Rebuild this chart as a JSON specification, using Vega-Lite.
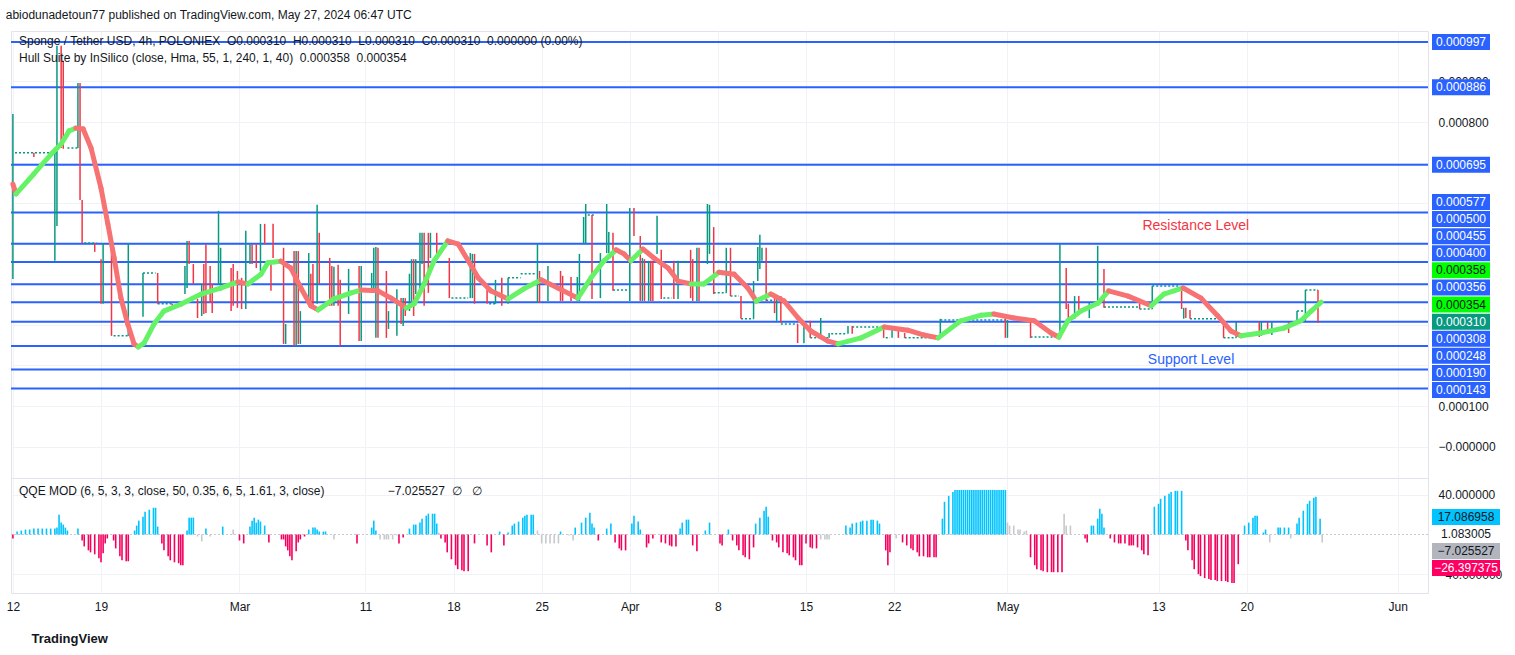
{
  "$schema": "https://vega.github.io/schema/vega-lite/v6.json",
  "background": "#ffffff",
  "padding": {"left": 5, "top": 8, "right": 0, "bottom": 0},
  "title": {"text": "abiodunadetoun77 published on TradingView.com, May 27, 2024 06:47 UTC", "anchor": "start", "fontSize": 12, "fontWeight": "normal", "color": "#131722", "offset": 9},
  "config": {
    "font": "Liberation Sans",
    "view": {"stroke": "#e0e3eb"},
    "axis": {"labelFont": "Liberation Sans", "labelFontSize": 12, "labelColor": "#131722", "gridColor": "#f0f2f6", "domain": false, "ticks": false},
    "title": {"font": "Liberation Sans"}
  },
  "datasets": {
    "levels": [
      {"v": 0.000997, "kind": "line"}, {"v": 0.000886, "kind": "line"}, {"v": 0.000695, "kind": "line"},
      {"v": 0.000577, "kind": "line"}, {"v": 0.0005, "kind": "line"}, {"v": 0.000455, "kind": "line"},
      {"v": 0.0004, "kind": "line"}, {"v": 0.000356, "kind": "line"}, {"v": 0.000308, "kind": "line"},
      {"v": 0.000248, "kind": "line"}, {"v": 0.00019, "kind": "line"}, {"v": 0.000143, "kind": "line"},
      {"v": 0.000358, "kind": "hull"}, {"v": 0.000354, "kind": "hull"}, {"v": 0.00031, "kind": "price"}
    ],
    "notes": [
      {"t": "2024-05-15T23:00Z", "v": 0.000543, "label": "Resistance Level", "kind": "res"},
      {"t": "2024-05-15T14:00Z", "v": 0.000213, "label": "Support Level", "kind": "sup"}
    ],
    "candles": [
      {"t": "2024-02-12T00:00Z", "v": 0.000413, "hi": 0.00082, "d": "u"},
      {"t": "2024-02-13T16:00Z", "v": 0.000714, "hi": 0.000724, "d": "d"},
      {"t": "2024-02-15T08:00Z", "v": 0.000458, "hi": 0.000736, "d": "u"},
      {"t": "2024-02-15T12:00Z", "v": 0.000544, "hi": 0.000988, "d": "u"},
      {"t": "2024-02-15T20:00Z", "v": 0.000736, "hi": 0.000988, "d": "d"},
      {"t": "2024-02-16T00:00Z", "v": 0.000734, "hi": 0.000951, "d": "d"},
      {"t": "2024-02-17T04:00Z", "v": 0.000736, "hi": 0.000896, "d": "u"},
      {"t": "2024-02-17T08:00Z", "v": 0.000608, "hi": 0.000896, "d": "d"},
      {"t": "2024-02-17T12:00Z", "v": 0.000502, "hi": 0.000608, "d": "d"},
      {"t": "2024-02-18T12:00Z", "v": 0.00048, "hi": 0.000502, "d": "d"},
      {"t": "2024-02-19T00:00Z", "v": 0.000352, "hi": 0.000462, "d": "d"},
      {"t": "2024-02-19T04:00Z", "v": 0.000352, "hi": 0.000502, "d": "u"},
      {"t": "2024-02-19T20:00Z", "v": 0.000273, "hi": 0.000502, "d": "d"},
      {"t": "2024-02-21T04:00Z", "v": 0.000273, "hi": 0.000502, "d": "u"},
      {"t": "2024-02-22T08:00Z", "v": 0.00032, "hi": 0.000428, "d": "u"},
      {"t": "2024-02-23T12:00Z", "v": 0.000352, "hi": 0.000428, "d": "d"},
      {"t": "2024-02-24T16:00Z", "v": 0.000342, "hi": 0.000352, "d": "d"},
      {"t": "2024-02-25T16:00Z", "v": 0.000376, "hi": 0.000445, "d": "u"},
      {"t": "2024-02-25T20:00Z", "v": 0.000391, "hi": 0.000507, "d": "u"},
      {"t": "2024-02-26T00:00Z", "v": 0.00045, "hi": 0.000507, "d": "d"},
      {"t": "2024-02-26T08:00Z", "v": 0.000401, "hi": 0.00045, "d": "d"},
      {"t": "2024-02-26T16:00Z", "v": 0.000317, "hi": 0.000364, "d": "d"},
      {"t": "2024-02-27T00:00Z", "v": 0.000322, "hi": 0.000401, "d": "u"},
      {"t": "2024-02-27T04:00Z", "v": 0.000327, "hi": 0.00045, "d": "d"},
      {"t": "2024-02-27T08:00Z", "v": 0.000329, "hi": 0.000499, "d": "d"},
      {"t": "2024-02-27T16:00Z", "v": 0.000354, "hi": 0.000445, "d": "d"},
      {"t": "2024-02-27T20:00Z", "v": 0.000329, "hi": 0.000401, "d": "d"},
      {"t": "2024-02-28T08:00Z", "v": 0.000401, "hi": 0.000581, "d": "u"},
      {"t": "2024-02-28T12:00Z", "v": 0.000384, "hi": 0.00049, "d": "u"},
      {"t": "2024-02-29T08:00Z", "v": 0.000334, "hi": 0.00044, "d": "d"},
      {"t": "2024-02-29T12:00Z", "v": 0.000347, "hi": 0.00045, "d": "d"},
      {"t": "2024-02-29T20:00Z", "v": 0.000342, "hi": 0.000433, "d": "d"},
      {"t": "2024-03-01T04:00Z", "v": 0.000339, "hi": 0.000416, "d": "d"},
      {"t": "2024-03-01T12:00Z", "v": 0.000339, "hi": 0.000532, "d": "u"},
      {"t": "2024-03-01T20:00Z", "v": 0.00045, "hi": 0.000499, "d": "u"},
      {"t": "2024-03-02T00:00Z", "v": 0.00045, "hi": 0.000499, "d": "d"},
      {"t": "2024-03-02T08:00Z", "v": 0.00044, "hi": 0.000499, "d": "d"},
      {"t": "2024-03-02T16:00Z", "v": 0.000433, "hi": 0.000549, "d": "u"},
      {"t": "2024-03-03T00:00Z", "v": 0.000499, "hi": 0.000549, "d": "d"},
      {"t": "2024-03-03T12:00Z", "v": 0.000384, "hi": 0.000458, "d": "d"},
      {"t": "2024-03-03T16:00Z", "v": 0.000465, "hi": 0.000549, "d": "d"},
      {"t": "2024-03-04T12:00Z", "v": 0.000253, "hi": 0.00049, "d": "d"},
      {"t": "2024-03-04T16:00Z", "v": 0.000253, "hi": 0.000302, "d": "u"},
      {"t": "2024-03-05T08:00Z", "v": 0.000248, "hi": 0.000482, "d": "d"},
      {"t": "2024-03-05T12:00Z", "v": 0.000248, "hi": 0.000482, "d": "u"},
      {"t": "2024-03-05T16:00Z", "v": 0.000253, "hi": 0.000482, "d": "d"},
      {"t": "2024-03-05T20:00Z", "v": 0.000253, "hi": 0.000334, "d": "u"},
      {"t": "2024-03-06T12:00Z", "v": 0.000347, "hi": 0.000477, "d": "u"},
      {"t": "2024-03-06T16:00Z", "v": 0.000347, "hi": 0.000426, "d": "d"},
      {"t": "2024-03-06T20:00Z", "v": 0.000347, "hi": 0.00045, "d": "d"},
      {"t": "2024-03-07T04:00Z", "v": 0.000352, "hi": 0.000596, "d": "u"},
      {"t": "2024-03-07T08:00Z", "v": 0.000401, "hi": 0.000527, "d": "d"},
      {"t": "2024-03-08T04:00Z", "v": 0.000347, "hi": 0.000465, "d": "d"},
      {"t": "2024-03-08T08:00Z", "v": 0.000347, "hi": 0.000445, "d": "d"},
      {"t": "2024-03-08T12:00Z", "v": 0.000347, "hi": 0.000443, "d": "u"},
      {"t": "2024-03-08T20:00Z", "v": 0.000347, "hi": 0.000448, "d": "d"},
      {"t": "2024-03-09T00:00Z", "v": 0.000248, "hi": 0.000411, "d": "d"},
      {"t": "2024-03-09T16:00Z", "v": 0.000327, "hi": 0.000438, "d": "u"},
      {"t": "2024-03-10T12:00Z", "v": 0.00026, "hi": 0.000445, "d": "d"},
      {"t": "2024-03-10T16:00Z", "v": 0.00026, "hi": 0.000445, "d": "u"},
      {"t": "2024-03-11T12:00Z", "v": 0.000379, "hi": 0.000428, "d": "u"},
      {"t": "2024-03-11T16:00Z", "v": 0.000384, "hi": 0.00049, "d": "u"},
      {"t": "2024-03-11T20:00Z", "v": 0.000268, "hi": 0.000492, "d": "u"},
      {"t": "2024-03-12T00:00Z", "v": 0.000268, "hi": 0.00049, "d": "d"},
      {"t": "2024-03-12T16:00Z", "v": 0.000268, "hi": 0.000433, "d": "d"},
      {"t": "2024-03-12T20:00Z", "v": 0.00029, "hi": 0.000334, "d": "u"},
      {"t": "2024-03-13T12:00Z", "v": 0.000273, "hi": 0.000388, "d": "u"},
      {"t": "2024-03-13T20:00Z", "v": 0.000302, "hi": 0.000366, "d": "d"},
      {"t": "2024-03-14T00:00Z", "v": 0.000297, "hi": 0.000366, "d": "u"},
      {"t": "2024-03-14T04:00Z", "v": 0.000322, "hi": 0.000366, "d": "d"},
      {"t": "2024-03-14T12:00Z", "v": 0.000334, "hi": 0.000426, "d": "u"},
      {"t": "2024-03-14T16:00Z", "v": 0.000359, "hi": 0.000462, "d": "u"},
      {"t": "2024-03-14T20:00Z", "v": 0.000322, "hi": 0.000462, "d": "d"},
      {"t": "2024-03-15T00:00Z", "v": 0.000376, "hi": 0.000462, "d": "u"},
      {"t": "2024-03-15T08:00Z", "v": 0.000379, "hi": 0.000527, "d": "u"},
      {"t": "2024-03-15T12:00Z", "v": 0.00045, "hi": 0.000527, "d": "u"},
      {"t": "2024-03-15T16:00Z", "v": 0.000347, "hi": 0.000527, "d": "d"},
      {"t": "2024-03-16T00:00Z", "v": 0.000379, "hi": 0.000527, "d": "d"},
      {"t": "2024-03-16T04:00Z", "v": 0.000465, "hi": 0.000527, "d": "u"},
      {"t": "2024-03-16T16:00Z", "v": 0.000465, "hi": 0.000527, "d": "d"},
      {"t": "2024-03-17T16:00Z", "v": 0.000366, "hi": 0.000465, "d": "d"},
      {"t": "2024-03-19T08:00Z", "v": 0.000366, "hi": 0.000477, "d": "u"},
      {"t": "2024-03-19T12:00Z", "v": 0.000366, "hi": 0.000475, "d": "u"},
      {"t": "2024-03-19T16:00Z", "v": 0.000352, "hi": 0.000475, "d": "d"},
      {"t": "2024-03-20T16:00Z", "v": 0.000352, "hi": 0.000398, "d": "d"},
      {"t": "2024-03-21T08:00Z", "v": 0.000352, "hi": 0.000411, "d": "u"},
      {"t": "2024-03-21T20:00Z", "v": 0.000347, "hi": 0.000416, "d": "d"},
      {"t": "2024-03-22T08:00Z", "v": 0.000352, "hi": 0.000416, "d": "u"},
      {"t": "2024-03-24T16:00Z", "v": 0.000354, "hi": 0.000499, "d": "u"},
      {"t": "2024-03-24T20:00Z", "v": 0.000354, "hi": 0.000433, "d": "d"},
      {"t": "2024-03-25T12:00Z", "v": 0.000359, "hi": 0.000445, "d": "u"},
      {"t": "2024-03-26T12:00Z", "v": 0.000359, "hi": 0.000433, "d": "d"},
      {"t": "2024-03-26T16:00Z", "v": 0.000359, "hi": 0.000421, "d": "d"},
      {"t": "2024-03-27T08:00Z", "v": 0.000359, "hi": 0.000418, "d": "d"},
      {"t": "2024-03-27T20:00Z", "v": 0.000359, "hi": 0.000418, "d": "u"},
      {"t": "2024-03-28T00:00Z", "v": 0.000359, "hi": 0.000475, "d": "u"},
      {"t": "2024-03-28T08:00Z", "v": 0.000499, "hi": 0.000566, "d": "u"},
      {"t": "2024-03-28T12:00Z", "v": 0.000499, "hi": 0.000598, "d": "u"},
      {"t": "2024-03-29T00:00Z", "v": 0.000364, "hi": 0.000571, "d": "d"},
      {"t": "2024-03-29T16:00Z", "v": 0.000366, "hi": 0.000477, "d": "u"},
      {"t": "2024-03-30T04:00Z", "v": 0.000477, "hi": 0.000598, "d": "u"},
      {"t": "2024-03-30T08:00Z", "v": 0.000477, "hi": 0.000529, "d": "u"},
      {"t": "2024-03-30T16:00Z", "v": 0.000384, "hi": 0.000527, "d": "d"},
      {"t": "2024-04-01T00:00Z", "v": 0.000359, "hi": 0.000588, "d": "u"},
      {"t": "2024-04-01T08:00Z", "v": 0.000519, "hi": 0.000588, "d": "d"},
      {"t": "2024-04-01T20:00Z", "v": 0.000359, "hi": 0.000519, "d": "d"},
      {"t": "2024-04-02T00:00Z", "v": 0.000359, "hi": 0.000465, "d": "u"},
      {"t": "2024-04-02T04:00Z", "v": 0.000359, "hi": 0.000462, "d": "d"},
      {"t": "2024-04-02T12:00Z", "v": 0.000359, "hi": 0.000458, "d": "u"},
      {"t": "2024-04-02T16:00Z", "v": 0.000359, "hi": 0.000458, "d": "d"},
      {"t": "2024-04-02T20:00Z", "v": 0.000359, "hi": 0.000458, "d": "d"},
      {"t": "2024-04-03T04:00Z", "v": 0.000475, "hi": 0.000569, "d": "u"},
      {"t": "2024-04-03T12:00Z", "v": 0.000364, "hi": 0.000485, "d": "d"},
      {"t": "2024-04-04T12:00Z", "v": 0.000364, "hi": 0.000458, "d": "d"},
      {"t": "2024-04-04T20:00Z", "v": 0.000364, "hi": 0.000458, "d": "u"},
      {"t": "2024-04-05T20:00Z", "v": 0.000366, "hi": 0.000485, "d": "d"},
      {"t": "2024-04-06T00:00Z", "v": 0.000359, "hi": 0.000462, "d": "d"},
      {"t": "2024-04-06T08:00Z", "v": 0.000359, "hi": 0.00049, "d": "u"},
      {"t": "2024-04-06T12:00Z", "v": 0.000359, "hi": 0.00049, "d": "d"},
      {"t": "2024-04-07T04:00Z", "v": 0.00045, "hi": 0.000598, "d": "u"},
      {"t": "2024-04-07T08:00Z", "v": 0.000475, "hi": 0.000596, "d": "u"},
      {"t": "2024-04-07T16:00Z", "v": 0.000376, "hi": 0.000541, "d": "d"},
      {"t": "2024-04-08T16:00Z", "v": 0.000379, "hi": 0.00049, "d": "u"},
      {"t": "2024-04-09T00:00Z", "v": 0.000371, "hi": 0.00049, "d": "d"},
      {"t": "2024-04-09T20:00Z", "v": 0.000315, "hi": 0.000371, "d": "d"},
      {"t": "2024-04-10T20:00Z", "v": 0.000315, "hi": 0.000408, "d": "u"},
      {"t": "2024-04-11T04:00Z", "v": 0.000408, "hi": 0.000492, "d": "u"},
      {"t": "2024-04-11T08:00Z", "v": 0.000438, "hi": 0.000522, "d": "u"},
      {"t": "2024-04-11T12:00Z", "v": 0.000458, "hi": 0.00049, "d": "u"},
      {"t": "2024-04-11T20:00Z", "v": 0.000359, "hi": 0.00049, "d": "d"},
      {"t": "2024-04-12T12:00Z", "v": 0.000329, "hi": 0.000366, "d": "d"},
      {"t": "2024-04-12T16:00Z", "v": 0.00031, "hi": 0.000371, "d": "u"},
      {"t": "2024-04-13T00:00Z", "v": 0.000305, "hi": 0.000371, "d": "d"},
      {"t": "2024-04-14T08:00Z", "v": 0.000255, "hi": 0.000302, "d": "d"},
      {"t": "2024-04-14T20:00Z", "v": 0.000255, "hi": 0.000305, "d": "u"},
      {"t": "2024-04-15T08:00Z", "v": 0.000268, "hi": 0.00031, "d": "d"},
      {"t": "2024-04-16T04:00Z", "v": 0.000268, "hi": 0.000317, "d": "u"},
      {"t": "2024-04-16T20:00Z", "v": 0.000268, "hi": 0.00028, "d": "u"},
      {"t": "2024-04-18T08:00Z", "v": 0.000278, "hi": 0.000297, "d": "u"},
      {"t": "2024-04-18T16:00Z", "v": 0.000278, "hi": 0.000297, "d": "d"},
      {"t": "2024-04-21T04:00Z", "v": 0.000268, "hi": 0.000297, "d": "d"},
      {"t": "2024-04-21T20:00Z", "v": 0.000268, "hi": 0.000292, "d": "u"},
      {"t": "2024-04-22T08:00Z", "v": 0.000268, "hi": 0.000285, "d": "d"},
      {"t": "2024-04-22T20:00Z", "v": 0.000268, "hi": 0.00028, "d": "d"},
      {"t": "2024-04-25T16:00Z", "v": 0.000268, "hi": 0.000315, "d": "u"},
      {"t": "2024-04-30T20:00Z", "v": 0.000268, "hi": 0.000315, "d": "d"},
      {"t": "2024-05-01T00:00Z", "v": 0.000268, "hi": 0.000312, "d": "u"},
      {"t": "2024-05-02T20:00Z", "v": 0.000268, "hi": 0.000315, "d": "d"},
      {"t": "2024-05-05T04:00Z", "v": 0.00027, "hi": 0.000499, "d": "u"},
      {"t": "2024-05-05T16:00Z", "v": 0.000339, "hi": 0.00044, "d": "d"},
      {"t": "2024-05-05T20:00Z", "v": 0.000315, "hi": 0.000352, "d": "d"},
      {"t": "2024-05-06T08:00Z", "v": 0.000315, "hi": 0.000371, "d": "u"},
      {"t": "2024-05-06T16:00Z", "v": 0.000327, "hi": 0.000371, "d": "d"},
      {"t": "2024-05-07T12:00Z", "v": 0.000317, "hi": 0.000354, "d": "u"},
      {"t": "2024-05-08T04:00Z", "v": 0.000347, "hi": 0.000495, "d": "u"},
      {"t": "2024-05-08T16:00Z", "v": 0.000342, "hi": 0.000438, "d": "d"},
      {"t": "2024-05-11T12:00Z", "v": 0.000339, "hi": 0.000357, "d": "d"},
      {"t": "2024-05-12T12:00Z", "v": 0.000339, "hi": 0.000396, "d": "u"},
      {"t": "2024-05-14T20:00Z", "v": 0.000339, "hi": 0.000396, "d": "d"},
      {"t": "2024-05-15T00:00Z", "v": 0.000315, "hi": 0.000342, "d": "u"},
      {"t": "2024-05-15T04:00Z", "v": 0.000317, "hi": 0.000342, "d": "d"},
      {"t": "2024-05-15T12:00Z", "v": 0.000315, "hi": 0.000337, "d": "d"},
      {"t": "2024-05-18T04:00Z", "v": 0.000268, "hi": 0.000307, "d": "d"},
      {"t": "2024-05-19T04:00Z", "v": 0.000268, "hi": 0.000307, "d": "u"},
      {"t": "2024-05-21T00:00Z", "v": 0.00027, "hi": 0.000307, "d": "d"},
      {"t": "2024-05-21T04:00Z", "v": 0.000273, "hi": 0.000307, "d": "u"},
      {"t": "2024-05-21T16:00Z", "v": 0.000278, "hi": 0.000307, "d": "d"},
      {"t": "2024-05-22T00:00Z", "v": 0.000275, "hi": 0.000307, "d": "u"},
      {"t": "2024-05-23T08:00Z", "v": 0.00028, "hi": 0.000307, "d": "d"},
      {"t": "2024-05-24T00:00Z", "v": 0.000305, "hi": 0.000334, "d": "u"},
      {"t": "2024-05-24T16:00Z", "v": 0.00031, "hi": 0.000386, "d": "u"},
      {"t": "2024-05-25T16:00Z", "v": 0.000305, "hi": 0.000386, "d": "d"}
    ],
    "flats": [
      {"t": "2024-02-12T04:00Z", "t2": "2024-02-15T12:00Z", "v": 0.000724},
      {"t": "2024-02-16T08:00Z", "t2": "2024-02-17T04:00Z", "v": 0.000736},
      {"t": "2024-02-17T16:00Z", "t2": "2024-02-18T16:00Z", "v": 0.000502},
      {"t": "2024-02-20T00:00Z", "t2": "2024-02-21T04:00Z", "v": 0.000273},
      {"t": "2024-02-22T08:00Z", "t2": "2024-02-23T08:00Z", "v": 0.000428},
      {"t": "2024-02-23T12:00Z", "t2": "2024-02-24T16:00Z", "v": 0.000352},
      {"t": "2024-03-17T20:00Z", "t2": "2024-03-19T04:00Z", "v": 0.000366},
      {"t": "2024-03-20T20:00Z", "t2": "2024-03-21T08:00Z", "v": 0.000352},
      {"t": "2024-03-22T08:00Z", "t2": "2024-03-23T08:00Z", "v": 0.000416},
      {"t": "2024-03-23T08:00Z", "t2": "2024-03-24T12:00Z", "v": 0.000426},
      {"t": "2024-03-28T16:00Z", "t2": "2024-03-29T04:00Z", "v": 0.000571},
      {"t": "2024-03-30T16:00Z", "t2": "2024-03-31T20:00Z", "v": 0.000386},
      {"t": "2024-04-03T16:00Z", "t2": "2024-04-04T08:00Z", "v": 0.000366},
      {"t": "2024-04-04T20:00Z", "t2": "2024-04-05T16:00Z", "v": 0.000455},
      {"t": "2024-04-07T16:00Z", "t2": "2024-04-08T16:00Z", "v": 0.000379},
      {"t": "2024-04-09T00:00Z", "t2": "2024-04-09T16:00Z", "v": 0.000371},
      {"t": "2024-04-09T20:00Z", "t2": "2024-04-10T20:00Z", "v": 0.000315},
      {"t": "2024-04-11T20:00Z", "t2": "2024-04-12T12:00Z", "v": 0.000361},
      {"t": "2024-04-13T00:00Z", "t2": "2024-04-14T08:00Z", "v": 0.000302},
      {"t": "2024-04-15T08:00Z", "t2": "2024-04-16T20:00Z", "v": 0.000268},
      {"t": "2024-04-17T00:00Z", "t2": "2024-04-18T04:00Z", "v": 0.000278},
      {"t": "2024-04-18T16:00Z", "t2": "2024-04-21T04:00Z", "v": 0.000295},
      {"t": "2024-04-21T08:00Z", "t2": "2024-04-21T16:00Z", "v": 0.000268},
      {"t": "2024-04-22T20:00Z", "t2": "2024-04-25T12:00Z", "v": 0.000268},
      {"t": "2024-04-25T16:00Z", "t2": "2024-04-30T20:00Z", "v": 0.000312},
      {"t": "2024-05-02T20:00Z", "t2": "2024-05-05T04:00Z", "v": 0.00027},
      {"t": "2024-05-08T16:00Z", "t2": "2024-05-11T12:00Z", "v": 0.000344},
      {"t": "2024-05-11T12:00Z", "t2": "2024-05-12T12:00Z", "v": 0.000339},
      {"t": "2024-05-12T12:00Z", "t2": "2024-05-14T16:00Z", "v": 0.000396},
      {"t": "2024-05-15T12:00Z", "t2": "2024-05-18T00:00Z", "v": 0.000315},
      {"t": "2024-05-18T04:00Z", "t2": "2024-05-19T04:00Z", "v": 0.000268},
      {"t": "2024-05-24T00:00Z", "t2": "2024-05-24T12:00Z", "v": 0.000334},
      {"t": "2024-05-24T16:00Z", "t2": "2024-05-25T16:00Z", "v": 0.000386}
    ],
    "hull": [
      {"t": "2024-02-12T00:00Z", "v": 0.000647}, {"t": "2024-02-12T06:00Z", "v": 0.000623},
      {"t": "2024-02-13T16:00Z", "v": 0.000672}, {"t": "2024-02-15T01:00Z", "v": 0.000721},
      {"t": "2024-02-15T20:00Z", "v": 0.000746}, {"t": "2024-02-16T11:00Z", "v": 0.000778},
      {"t": "2024-02-17T00:00Z", "v": 0.000785}, {"t": "2024-02-17T14:00Z", "v": 0.000783},
      {"t": "2024-02-18T05:00Z", "v": 0.000736}, {"t": "2024-02-19T00:00Z", "v": 0.000637},
      {"t": "2024-02-19T13:00Z", "v": 0.000549}, {"t": "2024-02-20T01:00Z", "v": 0.000465},
      {"t": "2024-02-20T14:00Z", "v": 0.000366}, {"t": "2024-02-21T03:00Z", "v": 0.000302},
      {"t": "2024-02-21T15:00Z", "v": 0.000253}, {"t": "2024-02-21T23:00Z", "v": 0.000246},
      {"t": "2024-02-22T10:00Z", "v": 0.000255}, {"t": "2024-02-23T05:00Z", "v": 0.000302},
      {"t": "2024-02-24T00:00Z", "v": 0.000334}, {"t": "2024-02-25T08:00Z", "v": 0.000351},
      {"t": "2024-02-26T23:00Z", "v": 0.000376}, {"t": "2024-02-28T13:00Z", "v": 0.000391},
      {"t": "2024-02-29T21:00Z", "v": 0.000406}, {"t": "2024-03-01T16:00Z", "v": 0.000401},
      {"t": "2024-03-02T17:00Z", "v": 0.000425}, {"t": "2024-03-03T06:00Z", "v": 0.000453},
      {"t": "2024-03-04T07:00Z", "v": 0.000457}, {"t": "2024-03-05T02:00Z", "v": 0.00044},
      {"t": "2024-03-05T21:00Z", "v": 0.000391}, {"t": "2024-03-06T16:00Z", "v": 0.000347},
      {"t": "2024-03-07T06:00Z", "v": 0.000337}, {"t": "2024-03-08T12:00Z", "v": 0.000364},
      {"t": "2024-03-09T21:00Z", "v": 0.000379}, {"t": "2024-03-10T16:00Z", "v": 0.000386},
      {"t": "2024-03-12T00:00Z", "v": 0.000384}, {"t": "2024-03-13T01:00Z", "v": 0.000366},
      {"t": "2024-03-14T06:00Z", "v": 0.000342}, {"t": "2024-03-14T21:00Z", "v": 0.000352},
      {"t": "2024-03-15T16:00Z", "v": 0.000401}, {"t": "2024-03-16T11:00Z", "v": 0.000458},
      {"t": "2024-03-17T13:00Z", "v": 0.000507}, {"t": "2024-03-18T09:00Z", "v": 0.000499},
      {"t": "2024-03-19T04:00Z", "v": 0.000458}, {"t": "2024-03-19T23:00Z", "v": 0.000416},
      {"t": "2024-03-20T23:00Z", "v": 0.000384}, {"t": "2024-03-22T08:00Z", "v": 0.000364},
      {"t": "2024-03-23T14:00Z", "v": 0.000389}, {"t": "2024-03-24T23:00Z", "v": 0.000411},
      {"t": "2024-03-26T07:00Z", "v": 0.000391}, {"t": "2024-03-27T21:00Z", "v": 0.000366},
      {"t": "2024-03-28T22:00Z", "v": 0.000416}, {"t": "2024-03-29T23:00Z", "v": 0.000458},
      {"t": "2024-03-30T22:00Z", "v": 0.000485}, {"t": "2024-03-31T13:00Z", "v": 0.000475},
      {"t": "2024-04-01T02:00Z", "v": 0.000458}, {"t": "2024-04-02T01:00Z", "v": 0.000487},
      {"t": "2024-04-02T22:00Z", "v": 0.000465}, {"t": "2024-04-04T01:00Z", "v": 0.00044},
      {"t": "2024-04-04T20:00Z", "v": 0.000408}, {"t": "2024-04-05T21:00Z", "v": 0.000401},
      {"t": "2024-04-06T21:00Z", "v": 0.000401}, {"t": "2024-04-08T02:00Z", "v": 0.00043},
      {"t": "2024-04-09T07:00Z", "v": 0.000425}, {"t": "2024-04-10T09:00Z", "v": 0.000391},
      {"t": "2024-04-11T01:00Z", "v": 0.000359}, {"t": "2024-04-12T05:00Z", "v": 0.000376},
      {"t": "2024-04-13T06:00Z", "v": 0.000359}, {"t": "2024-04-14T09:00Z", "v": 0.000317},
      {"t": "2024-04-15T09:00Z", "v": 0.000285}, {"t": "2024-04-16T18:00Z", "v": 0.00026},
      {"t": "2024-04-17T13:00Z", "v": 0.000253}, {"t": "2024-04-19T09:00Z", "v": 0.000268},
      {"t": "2024-04-21T05:00Z", "v": 0.000295}, {"t": "2024-04-23T02:00Z", "v": 0.000287},
      {"t": "2024-04-24T09:00Z", "v": 0.000275}, {"t": "2024-04-25T12:00Z", "v": 0.000268},
      {"t": "2024-04-27T07:00Z", "v": 0.00031}, {"t": "2024-04-28T22:00Z", "v": 0.000324},
      {"t": "2024-04-29T22:00Z", "v": 0.000327}, {"t": "2024-05-01T12:00Z", "v": 0.000317},
      {"t": "2024-05-03T03:00Z", "v": 0.00031}, {"t": "2024-05-04T11:00Z", "v": 0.00028},
      {"t": "2024-05-05T02:00Z", "v": 0.00027}, {"t": "2024-05-05T19:00Z", "v": 0.00031},
      {"t": "2024-05-06T20:00Z", "v": 0.000334}, {"t": "2024-05-08T05:00Z", "v": 0.000354},
      {"t": "2024-05-09T01:00Z", "v": 0.000384}, {"t": "2024-05-10T14:00Z", "v": 0.000371},
      {"t": "2024-05-12T10:00Z", "v": 0.000347}, {"t": "2024-05-13T10:00Z", "v": 0.000376},
      {"t": "2024-05-14T23:00Z", "v": 0.000391}, {"t": "2024-05-16T09:00Z", "v": 0.000366},
      {"t": "2024-05-17T17:00Z", "v": 0.000322}, {"t": "2024-05-18T18:00Z", "v": 0.000285},
      {"t": "2024-05-19T13:00Z", "v": 0.000273}, {"t": "2024-05-21T03:00Z", "v": 0.00028},
      {"t": "2024-05-22T23:00Z", "v": 0.000292}, {"t": "2024-05-24T07:00Z", "v": 0.00031},
      {"t": "2024-05-25T03:00Z", "v": 0.000334}, {"t": "2024-05-25T22:00Z", "v": 0.000356}
    ],
    "qtags": [
      {"q": 17.086958, "kind": "up"}, {"q": 1.083005, "kind": "plain"},
      {"q": -7.025527, "kind": "flat"}, {"q": -26.397375, "kind": "down"}
    ],
    "qqe": [
      {"t": "2024-02-12T00:00Z", "q": -4, "c": "p"}, {"t": "2024-02-12T08:00Z", "q": 3, "c": "b"},
      {"t": "2024-02-12T16:00Z", "q": 4, "c": "b"}, {"t": "2024-02-13T00:00Z", "q": 5, "c": "b"},
      {"t": "2024-02-13T08:00Z", "q": 5, "c": "b"}, {"t": "2024-02-13T16:00Z", "q": 6, "c": "b"},
      {"t": "2024-02-14T00:00Z", "q": 6, "c": "b"}, {"t": "2024-02-14T08:00Z", "q": 6, "c": "b"},
      {"t": "2024-02-14T16:00Z", "q": 6, "c": "b"}, {"t": "2024-02-15T00:00Z", "q": 6, "c": "b"},
      {"t": "2024-02-15T08:00Z", "q": 6, "c": "b"}, {"t": "2024-02-15T12:00Z", "q": 7, "c": "b"},
      {"t": "2024-02-15T16:00Z", "q": 20, "c": "b"}, {"t": "2024-02-15T20:00Z", "q": 12, "c": "b"},
      {"t": "2024-02-16T00:00Z", "q": 10, "c": "b"}, {"t": "2024-02-16T04:00Z", "q": 7, "c": "b"},
      {"t": "2024-02-16T08:00Z", "q": 4, "c": "b"}, {"t": "2024-02-17T04:00Z", "q": 6, "c": "b"},
      {"t": "2024-02-17T12:00Z", "q": -6, "c": "p"}, {"t": "2024-02-17T16:00Z", "q": -12, "c": "p"},
      {"t": "2024-02-18T00:00Z", "q": -16, "c": "p"}, {"t": "2024-02-18T04:00Z", "q": -18, "c": "p"},
      {"t": "2024-02-18T12:00Z", "q": -20, "c": "p"}, {"t": "2024-02-18T20:00Z", "q": -24, "c": "p"},
      {"t": "2024-02-19T00:00Z", "q": -28, "c": "p"}, {"t": "2024-02-19T04:00Z", "q": -19, "c": "p"},
      {"t": "2024-02-19T08:00Z", "q": -9, "c": "p"}, {"t": "2024-02-19T12:00Z", "q": -4, "c": "p"},
      {"t": "2024-02-20T00:00Z", "q": -6, "c": "p"}, {"t": "2024-02-20T04:00Z", "q": -14, "c": "p"},
      {"t": "2024-02-20T12:00Z", "q": -22, "c": "p"}, {"t": "2024-02-20T16:00Z", "q": -26, "c": "p"},
      {"t": "2024-02-21T00:00Z", "q": -27, "c": "p"}, {"t": "2024-02-21T04:00Z", "q": -27, "c": "p"},
      {"t": "2024-02-21T16:00Z", "q": 4, "c": "b"}, {"t": "2024-02-21T20:00Z", "q": 9, "c": "b"},
      {"t": "2024-02-22T00:00Z", "q": 14, "c": "b"}, {"t": "2024-02-22T08:00Z", "q": 18, "c": "b"},
      {"t": "2024-02-22T12:00Z", "q": 23, "c": "b"}, {"t": "2024-02-22T20:00Z", "q": 25, "c": "b"},
      {"t": "2024-02-23T04:00Z", "q": 27, "c": "b"}, {"t": "2024-02-23T08:00Z", "q": 27, "c": "b"},
      {"t": "2024-02-23T12:00Z", "q": 8, "c": "b"}, {"t": "2024-02-23T20:00Z", "q": -9, "c": "p"},
      {"t": "2024-02-24T00:00Z", "q": -16, "c": "p"}, {"t": "2024-02-24T08:00Z", "q": -22, "c": "p"},
      {"t": "2024-02-24T12:00Z", "q": -26, "c": "p"}, {"t": "2024-02-24T20:00Z", "q": -28, "c": "p"},
      {"t": "2024-02-25T04:00Z", "q": -29, "c": "p"}, {"t": "2024-02-25T08:00Z", "q": -31, "c": "p"},
      {"t": "2024-02-25T12:00Z", "q": -31, "c": "p"}, {"t": "2024-02-25T20:00Z", "q": 4, "c": "b"},
      {"t": "2024-02-26T00:00Z", "q": 17, "c": "b"}, {"t": "2024-02-26T04:00Z", "q": 17, "c": "b"},
      {"t": "2024-02-26T08:00Z", "q": 17, "c": "b"}, {"t": "2024-02-26T16:00Z", "q": -2, "c": "g"},
      {"t": "2024-02-27T00:00Z", "q": -7, "c": "g"}, {"t": "2024-02-27T08:00Z", "q": 6, "c": "b"},
      {"t": "2024-02-27T16:00Z", "q": -2, "c": "g"}, {"t": "2024-02-28T16:00Z", "q": 8, "c": "b"},
      {"t": "2024-02-29T12:00Z", "q": 5, "c": "g"}, {"t": "2024-03-01T00:00Z", "q": -6, "c": "p"},
      {"t": "2024-03-01T08:00Z", "q": -9, "c": "p"}, {"t": "2024-03-01T20:00Z", "q": 8, "c": "b"},
      {"t": "2024-03-02T00:00Z", "q": 14, "c": "b"}, {"t": "2024-03-02T04:00Z", "q": 17, "c": "b"},
      {"t": "2024-03-02T08:00Z", "q": 12, "c": "b"}, {"t": "2024-03-02T12:00Z", "q": 15, "c": "b"},
      {"t": "2024-03-02T16:00Z", "q": 13, "c": "b"}, {"t": "2024-03-03T00:00Z", "q": 9, "c": "b"},
      {"t": "2024-03-03T08:00Z", "q": -8, "c": "p"}, {"t": "2024-03-04T08:00Z", "q": -5, "c": "p"},
      {"t": "2024-03-04T12:00Z", "q": -5, "c": "p"}, {"t": "2024-03-04T16:00Z", "q": -12, "c": "p"},
      {"t": "2024-03-04T20:00Z", "q": -16, "c": "p"}, {"t": "2024-03-05T00:00Z", "q": -22, "c": "p"},
      {"t": "2024-03-05T04:00Z", "q": -26, "c": "p"}, {"t": "2024-03-05T12:00Z", "q": -17, "c": "p"},
      {"t": "2024-03-05T16:00Z", "q": -8, "c": "p"}, {"t": "2024-03-05T20:00Z", "q": -5, "c": "p"},
      {"t": "2024-03-06T04:00Z", "q": -2, "c": "p"}, {"t": "2024-03-06T12:00Z", "q": 5, "c": "b"},
      {"t": "2024-03-06T20:00Z", "q": 7, "c": "b"}, {"t": "2024-03-07T00:00Z", "q": 7, "c": "b"},
      {"t": "2024-03-07T04:00Z", "q": 5, "c": "b"}, {"t": "2024-03-07T08:00Z", "q": 3, "c": "b"},
      {"t": "2024-03-07T16:00Z", "q": 3, "c": "b"}, {"t": "2024-03-07T20:00Z", "q": 3, "c": "b"},
      {"t": "2024-03-08T12:00Z", "q": -5, "c": "g"}, {"t": "2024-03-10T08:00Z", "q": -9, "c": "p"},
      {"t": "2024-03-11T12:00Z", "q": 7, "c": "b"}, {"t": "2024-03-11T16:00Z", "q": 14, "c": "b"},
      {"t": "2024-03-11T20:00Z", "q": 4, "c": "b"}, {"t": "2024-03-12T04:00Z", "q": -5, "c": "g"},
      {"t": "2024-03-12T12:00Z", "q": -5, "c": "g"}, {"t": "2024-03-12T16:00Z", "q": -5, "c": "g"},
      {"t": "2024-03-12T20:00Z", "q": -5, "c": "g"}, {"t": "2024-03-13T04:00Z", "q": -5, "c": "g"},
      {"t": "2024-03-13T12:00Z", "q": -1, "c": "g"}, {"t": "2024-03-13T16:00Z", "q": -9, "c": "p"},
      {"t": "2024-03-14T00:00Z", "q": -3, "c": "p"}, {"t": "2024-03-14T12:00Z", "q": 6, "c": "b"},
      {"t": "2024-03-14T20:00Z", "q": 10, "c": "b"}, {"t": "2024-03-15T00:00Z", "q": 10, "c": "b"},
      {"t": "2024-03-15T08:00Z", "q": 12, "c": "b"}, {"t": "2024-03-15T12:00Z", "q": 16, "c": "b"},
      {"t": "2024-03-15T20:00Z", "q": 19, "c": "b"}, {"t": "2024-03-16T00:00Z", "q": 21, "c": "b"},
      {"t": "2024-03-16T08:00Z", "q": 21, "c": "b"}, {"t": "2024-03-16T12:00Z", "q": 21, "c": "b"},
      {"t": "2024-03-16T16:00Z", "q": 11, "c": "b"}, {"t": "2024-03-16T20:00Z", "q": 2, "c": "g"},
      {"t": "2024-03-17T00:00Z", "q": -4, "c": "p"}, {"t": "2024-03-17T08:00Z", "q": -8, "c": "p"},
      {"t": "2024-03-17T12:00Z", "q": -18, "c": "p"}, {"t": "2024-03-17T20:00Z", "q": -25, "c": "p"},
      {"t": "2024-03-18T04:00Z", "q": -31, "c": "p"}, {"t": "2024-03-18T08:00Z", "q": -35, "c": "p"},
      {"t": "2024-03-18T16:00Z", "q": -36, "c": "p"}, {"t": "2024-03-18T20:00Z", "q": -37, "c": "p"},
      {"t": "2024-03-19T04:00Z", "q": -37, "c": "p"}, {"t": "2024-03-19T16:00Z", "q": -9, "c": "p"},
      {"t": "2024-03-20T16:00Z", "q": -11, "c": "p"}, {"t": "2024-03-21T00:00Z", "q": -18, "c": "p"},
      {"t": "2024-03-21T16:00Z", "q": 3, "c": "b"}, {"t": "2024-03-22T00:00Z", "q": -11, "c": "p"},
      {"t": "2024-03-22T08:00Z", "q": 2, "c": "b"}, {"t": "2024-03-22T16:00Z", "q": 9, "c": "b"},
      {"t": "2024-03-22T20:00Z", "q": 11, "c": "b"}, {"t": "2024-03-23T04:00Z", "q": 13, "c": "b"},
      {"t": "2024-03-23T12:00Z", "q": 17, "c": "b"}, {"t": "2024-03-23T16:00Z", "q": 19, "c": "b"},
      {"t": "2024-03-23T20:00Z", "q": 20, "c": "b"}, {"t": "2024-03-24T04:00Z", "q": 20, "c": "b"},
      {"t": "2024-03-24T08:00Z", "q": 20, "c": "b"}, {"t": "2024-03-24T16:00Z", "q": 4, "c": "g"},
      {"t": "2024-03-25T00:00Z", "q": -9, "c": "g"}, {"t": "2024-03-25T08:00Z", "q": -9, "c": "g"},
      {"t": "2024-03-25T16:00Z", "q": -9, "c": "g"}, {"t": "2024-03-26T00:00Z", "q": -9, "c": "g"},
      {"t": "2024-03-26T08:00Z", "q": -9, "c": "g"}, {"t": "2024-03-26T12:00Z", "q": 3, "c": "b"},
      {"t": "2024-03-27T04:00Z", "q": -1, "c": "g"}, {"t": "2024-03-27T12:00Z", "q": -6, "c": "g"},
      {"t": "2024-03-27T16:00Z", "q": 7, "c": "b"}, {"t": "2024-03-28T04:00Z", "q": 12, "c": "b"},
      {"t": "2024-03-28T12:00Z", "q": 17, "c": "b"}, {"t": "2024-03-28T20:00Z", "q": 22, "c": "b"},
      {"t": "2024-03-29T00:00Z", "q": 11, "c": "b"}, {"t": "2024-03-29T04:00Z", "q": 7, "c": "b"},
      {"t": "2024-03-29T12:00Z", "q": -6, "c": "p"}, {"t": "2024-03-30T04:00Z", "q": 6, "c": "b"},
      {"t": "2024-03-30T12:00Z", "q": 11, "c": "b"}, {"t": "2024-03-30T20:00Z", "q": -8, "c": "p"},
      {"t": "2024-03-31T04:00Z", "q": -14, "c": "p"}, {"t": "2024-03-31T08:00Z", "q": -16, "c": "p"},
      {"t": "2024-03-31T16:00Z", "q": -16, "c": "p"}, {"t": "2024-04-01T04:00Z", "q": 11, "c": "b"},
      {"t": "2024-04-01T08:00Z", "q": 19, "c": "b"}, {"t": "2024-04-01T16:00Z", "q": 13, "c": "b"},
      {"t": "2024-04-01T20:00Z", "q": 5, "c": "b"}, {"t": "2024-04-02T08:00Z", "q": -13, "c": "p"},
      {"t": "2024-04-02T12:00Z", "q": -9, "c": "p"}, {"t": "2024-04-02T20:00Z", "q": -4, "c": "p"},
      {"t": "2024-04-03T12:00Z", "q": -8, "c": "p"}, {"t": "2024-04-03T20:00Z", "q": -9, "c": "p"},
      {"t": "2024-04-04T04:00Z", "q": -11, "c": "p"}, {"t": "2024-04-04T08:00Z", "q": -12, "c": "p"},
      {"t": "2024-04-04T16:00Z", "q": -12, "c": "p"}, {"t": "2024-04-05T00:00Z", "q": 6, "c": "b"},
      {"t": "2024-04-05T04:00Z", "q": 12, "c": "b"}, {"t": "2024-04-05T12:00Z", "q": 15, "c": "b"},
      {"t": "2024-04-05T16:00Z", "q": 15, "c": "b"}, {"t": "2024-04-06T00:00Z", "q": -11, "c": "p"},
      {"t": "2024-04-06T08:00Z", "q": -17, "c": "p"}, {"t": "2024-04-07T00:00Z", "q": 4, "c": "b"},
      {"t": "2024-04-07T08:00Z", "q": 12, "c": "b"}, {"t": "2024-04-08T04:00Z", "q": -9, "c": "p"},
      {"t": "2024-04-08T08:00Z", "q": -11, "c": "p"}, {"t": "2024-04-08T20:00Z", "q": 5, "c": "b"},
      {"t": "2024-04-09T04:00Z", "q": -6, "c": "p"}, {"t": "2024-04-09T12:00Z", "q": -11, "c": "p"},
      {"t": "2024-04-09T16:00Z", "q": -16, "c": "p"}, {"t": "2024-04-10T00:00Z", "q": -21, "c": "p"},
      {"t": "2024-04-10T04:00Z", "q": -23, "c": "p"}, {"t": "2024-04-10T12:00Z", "q": -25, "c": "p"},
      {"t": "2024-04-10T20:00Z", "q": -13, "c": "p"}, {"t": "2024-04-11T00:00Z", "q": 11, "c": "b"},
      {"t": "2024-04-11T08:00Z", "q": 17, "c": "b"}, {"t": "2024-04-11T16:00Z", "q": 24, "c": "b"},
      {"t": "2024-04-11T20:00Z", "q": 28, "c": "b"}, {"t": "2024-04-12T00:00Z", "q": 18, "c": "b"},
      {"t": "2024-04-12T08:00Z", "q": -6, "c": "p"}, {"t": "2024-04-12T16:00Z", "q": -8, "c": "p"},
      {"t": "2024-04-12T20:00Z", "q": -13, "c": "p"}, {"t": "2024-04-13T04:00Z", "q": -18, "c": "p"},
      {"t": "2024-04-13T12:00Z", "q": -19, "c": "p"}, {"t": "2024-04-13T16:00Z", "q": -21, "c": "p"},
      {"t": "2024-04-14T00:00Z", "q": -23, "c": "p"}, {"t": "2024-04-14T04:00Z", "q": -26, "c": "p"},
      {"t": "2024-04-14T12:00Z", "q": -31, "c": "p"}, {"t": "2024-04-14T16:00Z", "q": -31, "c": "p"},
      {"t": "2024-04-15T00:00Z", "q": -9, "c": "p"}, {"t": "2024-04-15T08:00Z", "q": -13, "c": "p"},
      {"t": "2024-04-15T12:00Z", "q": -14, "c": "p"}, {"t": "2024-04-15T20:00Z", "q": -14, "c": "p"},
      {"t": "2024-04-16T04:00Z", "q": -5, "c": "g"}, {"t": "2024-04-16T12:00Z", "q": -5, "c": "g"},
      {"t": "2024-04-16T16:00Z", "q": -5, "c": "g"}, {"t": "2024-04-16T20:00Z", "q": -5, "c": "g"},
      {"t": "2024-04-18T04:00Z", "q": 9, "c": "b"}, {"t": "2024-04-18T12:00Z", "q": 7, "c": "b"},
      {"t": "2024-04-18T16:00Z", "q": 11, "c": "b"}, {"t": "2024-04-19T00:00Z", "q": 12, "c": "b"},
      {"t": "2024-04-19T08:00Z", "q": 13, "c": "b"}, {"t": "2024-04-19T12:00Z", "q": 14, "c": "b"},
      {"t": "2024-04-19T20:00Z", "q": 14, "c": "b"}, {"t": "2024-04-20T04:00Z", "q": 15, "c": "b"},
      {"t": "2024-04-20T08:00Z", "q": 15, "c": "b"}, {"t": "2024-04-20T16:00Z", "q": 14, "c": "b"},
      {"t": "2024-04-20T20:00Z", "q": 11, "c": "b"}, {"t": "2024-04-21T08:00Z", "q": -16, "c": "p"},
      {"t": "2024-04-21T12:00Z", "q": -31, "c": "p"}, {"t": "2024-04-21T16:00Z", "q": -18, "c": "p"},
      {"t": "2024-04-22T04:00Z", "q": -4, "c": "g"}, {"t": "2024-04-22T16:00Z", "q": -8, "c": "p"},
      {"t": "2024-04-23T00:00Z", "q": -11, "c": "p"}, {"t": "2024-04-23T08:00Z", "q": -14, "c": "p"},
      {"t": "2024-04-23T12:00Z", "q": -16, "c": "p"}, {"t": "2024-04-23T20:00Z", "q": -18, "c": "p"},
      {"t": "2024-04-24T00:00Z", "q": -22, "c": "p"}, {"t": "2024-04-24T08:00Z", "q": -22, "c": "p"},
      {"t": "2024-04-24T16:00Z", "q": -23, "c": "p"}, {"t": "2024-04-24T20:00Z", "q": -23, "c": "p"},
      {"t": "2024-04-25T04:00Z", "q": -23, "c": "p"}, {"t": "2024-04-25T08:00Z", "q": -23, "c": "p"},
      {"t": "2024-04-25T20:00Z", "q": 16, "c": "b"}, {"t": "2024-04-26T00:00Z", "q": 33, "c": "b"},
      {"t": "2024-04-26T08:00Z", "q": 39, "c": "b"}, {"t": "2024-04-26T16:00Z", "q": 43, "c": "b"},
      {"t": "2024-04-26T20:00Z", "q": 45, "c": "b"}, {"t": "2024-04-27T00:00Z", "q": 45, "c": "b"},
      {"t": "2024-04-27T04:00Z", "q": 45, "c": "b"}, {"t": "2024-04-27T08:00Z", "q": 45, "c": "b"},
      {"t": "2024-04-27T12:00Z", "q": 45, "c": "b"}, {"t": "2024-04-27T16:00Z", "q": 45, "c": "b"},
      {"t": "2024-04-27T20:00Z", "q": 45, "c": "b"}, {"t": "2024-04-28T00:00Z", "q": 45, "c": "b"},
      {"t": "2024-04-28T04:00Z", "q": 45, "c": "b"}, {"t": "2024-04-28T08:00Z", "q": 45, "c": "b"},
      {"t": "2024-04-28T12:00Z", "q": 45, "c": "b"}, {"t": "2024-04-28T16:00Z", "q": 45, "c": "b"},
      {"t": "2024-04-28T20:00Z", "q": 45, "c": "b"}, {"t": "2024-04-29T00:00Z", "q": 45, "c": "b"},
      {"t": "2024-04-29T04:00Z", "q": 45, "c": "b"}, {"t": "2024-04-29T08:00Z", "q": 45, "c": "b"},
      {"t": "2024-04-29T12:00Z", "q": 45, "c": "b"}, {"t": "2024-04-29T16:00Z", "q": 45, "c": "b"},
      {"t": "2024-04-29T20:00Z", "q": 45, "c": "b"}, {"t": "2024-04-30T00:00Z", "q": 45, "c": "b"},
      {"t": "2024-04-30T04:00Z", "q": 45, "c": "b"}, {"t": "2024-04-30T08:00Z", "q": 45, "c": "b"},
      {"t": "2024-04-30T12:00Z", "q": 45, "c": "b"}, {"t": "2024-04-30T16:00Z", "q": 45, "c": "b"},
      {"t": "2024-04-30T20:00Z", "q": 45, "c": "b"}, {"t": "2024-05-01T00:00Z", "q": 12, "c": "g"},
      {"t": "2024-05-01T04:00Z", "q": 9, "c": "g"}, {"t": "2024-05-01T12:00Z", "q": 9, "c": "g"},
      {"t": "2024-05-01T20:00Z", "q": 5, "c": "g"}, {"t": "2024-05-02T00:00Z", "q": 5, "c": "g"},
      {"t": "2024-05-02T08:00Z", "q": 3, "c": "g"}, {"t": "2024-05-02T12:00Z", "q": 4, "c": "g"},
      {"t": "2024-05-02T20:00Z", "q": -23, "c": "p"}, {"t": "2024-05-03T04:00Z", "q": -31, "c": "p"},
      {"t": "2024-05-03T08:00Z", "q": -35, "c": "p"}, {"t": "2024-05-03T16:00Z", "q": -36, "c": "p"},
      {"t": "2024-05-03T20:00Z", "q": -37, "c": "p"}, {"t": "2024-05-04T04:00Z", "q": -38, "c": "p"},
      {"t": "2024-05-04T12:00Z", "q": -38, "c": "p"}, {"t": "2024-05-04T16:00Z", "q": -38, "c": "p"},
      {"t": "2024-05-05T00:00Z", "q": -38, "c": "p"}, {"t": "2024-05-05T08:00Z", "q": -38, "c": "p"},
      {"t": "2024-05-05T12:00Z", "q": 21, "c": "g"}, {"t": "2024-05-05T16:00Z", "q": 9, "c": "g"},
      {"t": "2024-05-06T00:00Z", "q": 9, "c": "g"}, {"t": "2024-05-07T04:00Z", "q": -4, "c": "p"},
      {"t": "2024-05-07T08:00Z", "q": -8, "c": "p"}, {"t": "2024-05-07T16:00Z", "q": 9, "c": "b"},
      {"t": "2024-05-07T20:00Z", "q": 9, "c": "b"}, {"t": "2024-05-08T04:00Z", "q": 16, "c": "b"},
      {"t": "2024-05-08T08:00Z", "q": 26, "c": "b"}, {"t": "2024-05-08T12:00Z", "q": 21, "c": "b"},
      {"t": "2024-05-08T16:00Z", "q": 7, "c": "b"}, {"t": "2024-05-09T04:00Z", "q": -4, "c": "p"},
      {"t": "2024-05-09T12:00Z", "q": -8, "c": "p"}, {"t": "2024-05-09T20:00Z", "q": -9, "c": "p"},
      {"t": "2024-05-10T00:00Z", "q": -9, "c": "p"}, {"t": "2024-05-10T08:00Z", "q": -9, "c": "p"},
      {"t": "2024-05-10T16:00Z", "q": -11, "c": "p"}, {"t": "2024-05-10T20:00Z", "q": -11, "c": "p"},
      {"t": "2024-05-11T00:00Z", "q": -11, "c": "p"}, {"t": "2024-05-11T08:00Z", "q": -13, "c": "p"},
      {"t": "2024-05-11T16:00Z", "q": -16, "c": "p"}, {"t": "2024-05-11T20:00Z", "q": -20, "c": "p"},
      {"t": "2024-05-12T04:00Z", "q": -21, "c": "p"}, {"t": "2024-05-12T16:00Z", "q": 28, "c": "b"},
      {"t": "2024-05-13T00:00Z", "q": 31, "c": "b"}, {"t": "2024-05-13T04:00Z", "q": 36, "c": "b"},
      {"t": "2024-05-13T12:00Z", "q": 39, "c": "b"}, {"t": "2024-05-13T20:00Z", "q": 41, "c": "b"},
      {"t": "2024-05-14T00:00Z", "q": 43, "c": "b"}, {"t": "2024-05-14T08:00Z", "q": 44, "c": "b"},
      {"t": "2024-05-14T12:00Z", "q": 44, "c": "b"}, {"t": "2024-05-14T20:00Z", "q": 44, "c": "b"},
      {"t": "2024-05-15T04:00Z", "q": -6, "c": "p"}, {"t": "2024-05-15T08:00Z", "q": -16, "c": "p"},
      {"t": "2024-05-15T16:00Z", "q": -26, "c": "p"}, {"t": "2024-05-15T20:00Z", "q": -35, "c": "p"},
      {"t": "2024-05-16T04:00Z", "q": -40, "c": "p"}, {"t": "2024-05-16T08:00Z", "q": -42, "c": "p"},
      {"t": "2024-05-16T16:00Z", "q": -44, "c": "p"}, {"t": "2024-05-17T00:00Z", "q": -45, "c": "p"},
      {"t": "2024-05-17T04:00Z", "q": -46, "c": "p"}, {"t": "2024-05-17T12:00Z", "q": -46, "c": "p"},
      {"t": "2024-05-17T16:00Z", "q": -47, "c": "p"}, {"t": "2024-05-18T00:00Z", "q": -47, "c": "p"},
      {"t": "2024-05-18T08:00Z", "q": -47, "c": "p"}, {"t": "2024-05-18T12:00Z", "q": -48, "c": "p"},
      {"t": "2024-05-18T20:00Z", "q": -49, "c": "p"}, {"t": "2024-05-19T00:00Z", "q": -49, "c": "p"},
      {"t": "2024-05-19T08:00Z", "q": -30, "c": "p"}, {"t": "2024-05-19T20:00Z", "q": 9, "c": "b"},
      {"t": "2024-05-20T04:00Z", "q": 12, "c": "b"}, {"t": "2024-05-20T12:00Z", "q": 17, "c": "b"},
      {"t": "2024-05-20T16:00Z", "q": 19, "c": "b"}, {"t": "2024-05-20T20:00Z", "q": 19, "c": "b"},
      {"t": "2024-05-21T08:00Z", "q": 2, "c": "b"}, {"t": "2024-05-21T12:00Z", "q": 5, "c": "b"},
      {"t": "2024-05-21T20:00Z", "q": -8, "c": "g"}, {"t": "2024-05-22T12:00Z", "q": 7, "c": "b"},
      {"t": "2024-05-22T16:00Z", "q": 7, "c": "b"}, {"t": "2024-05-23T00:00Z", "q": 7, "c": "b"},
      {"t": "2024-05-23T08:00Z", "q": 7, "c": "b"}, {"t": "2024-05-23T12:00Z", "q": -4, "c": "g"},
      {"t": "2024-05-24T00:00Z", "q": 11, "c": "b"}, {"t": "2024-05-24T04:00Z", "q": 17, "c": "b"},
      {"t": "2024-05-24T12:00Z", "q": 24, "c": "b"}, {"t": "2024-05-24T20:00Z", "q": 31, "c": "b"},
      {"t": "2024-05-25T00:00Z", "q": 34, "c": "b"}, {"t": "2024-05-25T08:00Z", "q": 37, "c": "b"},
      {"t": "2024-05-25T12:00Z", "q": 38, "c": "b"}, {"t": "2024-05-25T20:00Z", "q": 16, "c": "b"},
      {"t": "2024-05-26T00:00Z", "q": -8, "c": "g"}
    ]
  },
  "spacing": 0,
  "bounds": "flush",
  "vconcat": [
    {
      "width": 1417,
      "height": 447,
      "title": {
        "text": "Sponge / Tether USD, 4h, POLONIEX\u00a0\u00a0O0.000310\u00a0\u00a0H0.000310\u00a0\u00a0L0.000310\u00a0\u00a0C0.000310\u00a0\u00a00.000000 (0.00%)",
        "subtitle": "Hull Suite by InSilico (close, Hma, 55, 1, 240, 1, 40)\u00a0\u00a00.000358\u00a0\u00a00.000354",
        "anchor": "start", "frame": "group", "offset": -34, "dx": 8,
        "fontSize": 12, "fontWeight": "normal", "color": "#131722",
        "subtitleFontSize": 12, "subtitleColor": "#131722", "subtitlePadding": 5
      },
      "layer": [
        {
          "encoding": {
            "y": {
              "field": "v", "type": "quantitative", "title": null,
              "scale": {"domain": [-0.0000774, 0.0010244], "nice": false, "zero": false},
              "axis": {
                "orient": "right", "grid": true, "labelPadding": 10,
                "values": [0, 0.0001, 0.0002, 0.0003, 0.0004, 0.0005, 0.0006, 0.0007, 0.0008, 0.0009],
                "labelExpr": "datum.value > 0.00085 ? '0.000900' : (abs(datum.value - 0.0008) < 1e-9 ? '0.000800' : (abs(datum.value - 0.0001) < 1e-9 ? '0.000100' : (datum.value == 0 ? '\u22120.000000' : '')))"
              }
            }
          },
          "layer": [
            {
              "data": {"name": "levels"},
              "transform": [{"filter": "datum.kind == 'line'"}],
              "mark": {"type": "rule", "color": "#2962ff", "strokeWidth": 2},
              "encoding": {}
            },
            {
              "data": {"name": "flats"},
              "mark": {"type": "rule", "color": "#089981", "strokeWidth": 1.5, "strokeDash": [2, 2]},
              "encoding": {
                "x": {"field": "t", "type": "temporal", "title": null,
                  "scale": {"type": "utc", "domain": [{"year": 2024, "month": 2, "date": 11, "hours": 20, "minutes": 24, "utc": true}, {"year": 2024, "month": 6, "date": 3, "hours": 9, "minutes": 42, "utc": true}]}},
                "x2": {"field": "t2"}
              }
            },
            {
              "data": {"name": "candles"},
              "mark": {"type": "rule", "strokeWidth": 1.5},
              "encoding": {
                "x": {"field": "t", "type": "temporal", "title": null,
                  "scale": {"type": "utc", "domain": [{"year": 2024, "month": 2, "date": 11, "hours": 20, "minutes": 24, "utc": true}, {"year": 2024, "month": 6, "date": 3, "hours": 9, "minutes": 42, "utc": true}]},
                  "axis": {"labels": false, "grid": true, "title": null,
                    "values": [
                      {"year": 2024, "month": 2, "date": 12, "utc": true}, {"year": 2024, "month": 2, "date": 19, "utc": true},
                      {"year": 2024, "month": 3, "date": 1, "utc": true}, {"year": 2024, "month": 3, "date": 11, "utc": true},
                      {"year": 2024, "month": 3, "date": 18, "utc": true}, {"year": 2024, "month": 3, "date": 25, "utc": true},
                      {"year": 2024, "month": 4, "date": 1, "utc": true}, {"year": 2024, "month": 4, "date": 8, "utc": true},
                      {"year": 2024, "month": 4, "date": 15, "utc": true}, {"year": 2024, "month": 4, "date": 22, "utc": true},
                      {"year": 2024, "month": 5, "date": 1, "utc": true}, {"year": 2024, "month": 5, "date": 13, "utc": true},
                      {"year": 2024, "month": 5, "date": 20, "utc": true}, {"year": 2024, "month": 6, "date": 1, "utc": true}
                    ]}},
                "y2": {"field": "hi"},
                "color": {"condition": {"test": "datum.d == 'u'", "value": "#089981"}, "value": "#f23645"}
              }
            },
            {
              "data": {"name": "hull"},
              "transform": [
                {"window": [{"op": "lead", "field": "t", "as": "t2"}, {"op": "lead", "field": "v", "as": "v2"}], "sort": [{"field": "t"}]},
                {"filter": "datum.t2 != null"}
              ],
              "mark": {"type": "rule", "strokeWidth": 5, "strokeCap": "round"},
              "encoding": {
                "x": {"field": "t", "type": "temporal", "title": null,
                  "scale": {"type": "utc", "domain": [{"year": 2024, "month": 2, "date": 11, "hours": 20, "minutes": 24, "utc": true}, {"year": 2024, "month": 6, "date": 3, "hours": 9, "minutes": 42, "utc": true}]}},
                "x2": {"field": "t2"},
                "y2": {"field": "v2"},
                "color": {"condition": {"test": "datum.v2 >= datum.v", "value": "#66f266"}, "value": "#f77272"}
              }
            },
            {
              "data": {"name": "notes"},
              "mark": {"type": "text", "fontSize": 14},
              "encoding": {
                "x": {"field": "t", "type": "temporal", "title": null,
                  "scale": {"type": "utc", "domain": [{"year": 2024, "month": 2, "date": 11, "hours": 20, "minutes": 24, "utc": true}, {"year": 2024, "month": 6, "date": 3, "hours": 9, "minutes": 42, "utc": true}]}},
                "text": {"field": "label"},
                "color": {"condition": {"test": "datum.kind == 'res'", "value": "#f23645"}, "value": "#2962ff"}
              }
            },
            {
              "data": {"name": "levels"},
              "transform": [{"filter": "datum.v > 0.0006"}],
              "mark": {"type": "rule", "strokeWidth": 16, "xOffset": 4, "x2Offset": 62, "color": "#2962ff"},
              "encoding": {"x": {"value": "width"}, "x2": {"value": "width"}}
            },
            {
              "data": {"name": "levels"},
              "transform": [{"filter": "datum.v > 0.0006"}],
              "mark": {"type": "text", "xOffset": 33, "fontSize": 12, "color": "#ffffff"},
              "encoding": {"x": {"value": "width"}, "text": {"field": "v", "type": "quantitative", "format": ".6f"}}
            }
          ]
        },
        {
          "data": {"name": "levels"},
          "transform": [{"filter": "datum.v < 0.0006"}],
          "encoding": {
            "y": {"field": "v", "type": "ordinal", "sort": "descending", "scale": {"type": "point", "range": [171, 359], "padding": 0}, "axis": null}
          },
          "layer": [
            {
              "mark": {"type": "rule", "strokeWidth": 16, "xOffset": 4, "x2Offset": 62},
              "encoding": {
                "x": {"value": "width"}, "x2": {"value": "width"},
                "color": {"condition": [{"test": "datum.kind == 'hull'", "value": "#00ff00"}, {"test": "datum.kind == 'price'", "value": "#089981"}], "value": "#2962ff"}
              }
            },
            {
              "mark": {"type": "text", "xOffset": 33, "fontSize": 12},
              "encoding": {
                "x": {"value": "width"},
                "text": {"field": "v", "type": "quantitative", "format": ".6f"},
                "color": {"condition": {"test": "datum.kind == 'hull'", "value": "#131722"}, "value": "#ffffff"}
              }
            }
          ]
        }
      ],
      "resolve": {"scale": {"y": "independent"}}
    },
    {
      "width": 1417,
      "height": 115,
      "title": {
        "text": "QQE MOD (6, 5, 3, 3, close, 50, 0.35, 6, 5, 1.61, 3, close)\u00a0\u00a0\u00a0\u00a0\u00a0\u00a0\u00a0\u00a0\u00a0\u00a0\u00a0\u00a0\u00a0\u00a0\u00a0\u00a0\u00a0\u00a0\u00a0\u22127.025527\u00a0\u00a0\u2205\u00a0\u00a0\u00a0\u2205",
        "anchor": "start", "frame": "group", "offset": -20, "dx": 8,
        "fontSize": 12, "fontWeight": "normal", "color": "#131722"
      },
      "layer": [
        {
          "encoding": {
            "y": {
              "field": "q", "type": "quantitative", "title": null,
              "scale": {"domain": [-59, 57], "nice": false, "zero": false},
              "axis": {"orient": "right", "grid": true, "labelPadding": 10, "values": [40, -40],
                "labelExpr": "datum.value > 0 ? '40.000000' : '\u221240.000000'"}
            }
          },
          "layer": [
            {
              "data": {"values": [{"q": 0}]},
              "mark": {"type": "rule", "color": "#c8cad0", "strokeDash": [2, 2]},
              "encoding": {}
            },
            {
              "data": {"name": "qqe"},
              "mark": {"type": "rule", "strokeWidth": 1.6},
              "encoding": {
                "x": {"field": "t", "type": "temporal", "title": null,
                  "scale": {"type": "utc", "domain": [{"year": 2024, "month": 2, "date": 11, "hours": 20, "minutes": 24, "utc": true}, {"year": 2024, "month": 6, "date": 3, "hours": 9, "minutes": 42, "utc": true}]},
                  "axis": {
                    "grid": true, "labelPadding": 8, "labelFlush": false,
                    "values": [
                      {"year": 2024, "month": 2, "date": 12, "utc": true}, {"year": 2024, "month": 2, "date": 19, "utc": true},
                      {"year": 2024, "month": 3, "date": 1, "utc": true}, {"year": 2024, "month": 3, "date": 11, "utc": true},
                      {"year": 2024, "month": 3, "date": 18, "utc": true}, {"year": 2024, "month": 3, "date": 25, "utc": true},
                      {"year": 2024, "month": 4, "date": 1, "utc": true}, {"year": 2024, "month": 4, "date": 8, "utc": true},
                      {"year": 2024, "month": 4, "date": 15, "utc": true}, {"year": 2024, "month": 4, "date": 22, "utc": true},
                      {"year": 2024, "month": 5, "date": 1, "utc": true}, {"year": 2024, "month": 5, "date": 13, "utc": true},
                      {"year": 2024, "month": 5, "date": 20, "utc": true}, {"year": 2024, "month": 6, "date": 1, "utc": true}
                    ],
                    "labelExpr": "utcdate(datum.value) == 1 ? utcFormat(datum.value, '%b') : utcFormat(datum.value, '%-d')",
                    "title": "TradingView", "titleX": 20, "titleY": 45, "titleAlign": "left", "titleBaseline": "middle",
                    "titleFontSize": 13, "titleFontWeight": "bold", "titleColor": "#131722"
                  }},
                "y2": {"datum": 0},
                "color": {"condition": [{"test": "datum.c == 'b'", "value": "#00c3ff"}, {"test": "datum.c == 'p'", "value": "#f5005f"}], "value": "#c8c9cc"}
              }
            }
          ]
        },
        {
          "data": {"name": "qtags"},
          "encoding": {
            "y": {"field": "q", "type": "ordinal", "sort": "descending", "scale": {"type": "point", "range": [39, 90], "padding": 0}, "axis": null}
          },
          "layer": [
            {
              "mark": {"type": "rule", "strokeWidth": 16, "xOffset": 4, "x2Offset": 72},
              "encoding": {
                "x": {"value": "width"}, "x2": {"value": "width"},
                "color": {"condition": [{"test": "datum.kind == 'up'", "value": "#00c3ff"}, {"test": "datum.kind == 'flat'", "value": "#b2b5be"}, {"test": "datum.kind == 'down'", "value": "#ff0062"}], "value": "#ffffff"}
              }
            },
            {
              "mark": {"type": "text", "xOffset": 38, "fontSize": 12},
              "encoding": {
                "x": {"value": "width"},
                "text": {"field": "q", "type": "quantitative", "format": ".6f"},
                "color": {"condition": {"test": "datum.kind == 'down'", "value": "#ffffff"}, "value": "#131722"}
              }
            }
          ]
        }
      ],
      "resolve": {"scale": {"y": "independent"}}
    }
  ]
}
